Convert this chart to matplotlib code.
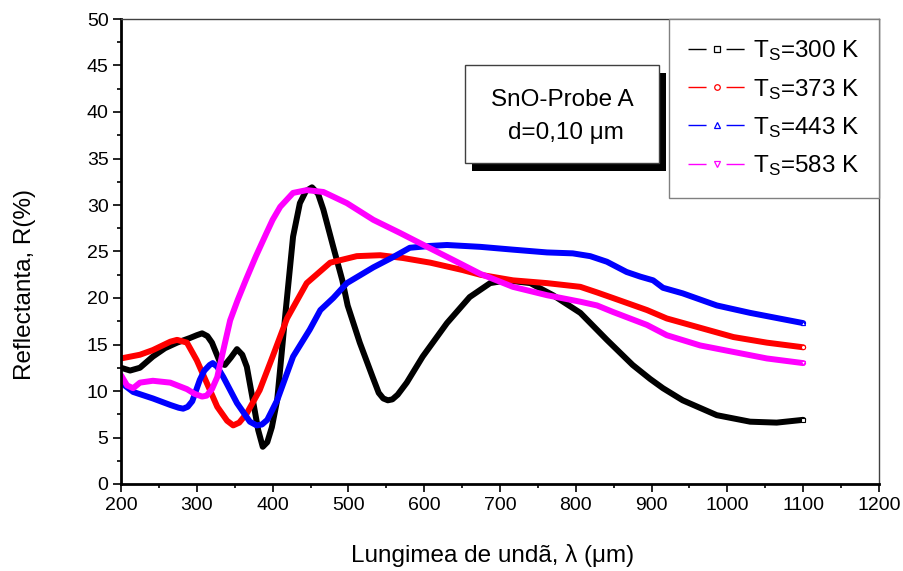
import matplotlib
matplotlib.use('Agg')
import matplotlib.pyplot as plt
from matplotlib.lines import Line2D
from matplotlib.patches import Rectangle
from matplotlib.ticker import MultipleLocator

plt.rcParams['font.family'] = ['Liberation Sans', 'DejaVu Sans']
plt.rcParams['mathtext.default'] = 'regular'

# Ts = 300 K
x_300 = [200, 212, 225, 242, 258, 274, 291, 300, 307, 314, 320, 326, 331, 337, 345, 353, 360, 366,
         374, 381, 387, 393, 399, 406, 412, 417, 427, 436, 444, 452, 460, 467, 480,
         492, 499, 515, 532, 540, 546, 552, 558, 565, 577, 598, 630, 660, 687, 709, 740, 770,
         806, 841, 875, 898, 915, 941, 986, 1030, 1065, 1100]
y_300 = [12.5, 12.2, 12.5, 13.7, 14.6, 15.2, 15.7, 16.0, 16.2, 15.9, 15.2, 14.0, 13.0, 12.8, 13.6, 14.5, 13.9, 12.6,
         9.0, 5.8, 4.0, 4.5, 6.1, 9.0, 14.1, 18.4, 26.6, 30.2, 31.5, 31.9, 31.2, 29.5, 25.5,
         21.9, 19.2, 15.2, 11.5, 9.8, 9.2, 9.0, 9.1, 9.6, 10.9, 13.7, 17.3, 20.1, 21.6, 21.9, 21.6, 20.3,
         18.4, 15.5, 12.8, 11.3, 10.3, 9.0, 7.4, 6.7, 6.6, 6.9]

# Ts = 373 K
x_373 = [200, 225, 242, 265, 274, 287, 300, 313, 327, 340, 348, 356, 366, 383, 400, 419, 432,
         445, 476, 511, 542, 572, 608, 651, 674, 717, 762, 806, 828, 849, 894, 920,
         964, 1008, 1052, 1100]
y_373 = [13.5, 13.9, 14.4, 15.3, 15.5, 15.2, 13.3, 10.9, 8.3, 6.8, 6.3, 6.6, 7.6, 10.1, 13.7, 17.8, 19.7,
         21.6, 23.8, 24.5, 24.6, 24.3, 23.8, 23.0, 22.5, 21.9, 21.6, 21.2, 20.6, 20.0, 18.7, 17.8,
         16.8, 15.8, 15.2, 14.7]

# Ts = 443 K
x_443 = [200, 216, 242, 265, 276, 282, 288, 294, 304, 310, 317, 321, 327, 335, 353, 370, 379, 386, 393, 406,
         427, 449, 463, 480, 498, 533, 559, 581, 608, 630, 674, 717, 762, 796, 819,
         841, 867, 885, 902, 915, 941, 986, 1030, 1100]
y_443 = [10.9, 9.9, 9.2, 8.5, 8.2, 8.1, 8.3, 8.9, 11.2, 12.2, 12.8, 13.0, 12.6, 11.5, 8.7, 6.7, 6.3, 6.4, 6.9, 9.0,
         13.7, 16.6, 18.7, 20.0, 21.6, 23.3, 24.4, 25.4, 25.6, 25.7, 25.5, 25.2, 24.9, 24.8, 24.5,
         23.9, 22.8, 22.3, 21.9, 21.1, 20.5, 19.2, 18.4, 17.3]

# Ts = 583 K
x_583 = [200, 208, 216, 225, 242, 265, 287, 297, 307, 313, 320, 327, 335, 344, 354, 365, 378,
         392, 400, 410, 427, 445, 467, 498, 533, 568, 604, 638, 674, 717, 762, 806,
         828, 849, 894, 920, 964, 1008, 1052, 1100]
y_583 = [11.7, 10.6, 10.3, 10.9, 11.1, 10.9, 10.2, 9.7, 9.4, 9.5, 10.2, 11.5, 14.4, 17.6, 19.8, 22.0, 24.5,
         27.0, 28.4, 29.8, 31.3, 31.6, 31.4, 30.2, 28.4, 27.0, 25.5, 24.1, 22.6, 21.2, 20.3, 19.6,
         19.2, 18.5, 17.1, 16.0, 14.9, 14.2, 13.5, 13.0]

labels = ['$T_S$=300 K', '$T_S$=373 K', '$T_S$=443 K', '$T_S$=583 K']
colors = ['black', 'red', 'blue', 'magenta']
markers = ['s', 'o', '^', 'v']

fig = plt.figure(figsize=(9.04, 5.71), dpi=100)
ax = fig.add_axes([121 / 904, 1 - 484 / 571, 758 / 904, 465 / 571])

series = [(x_300, y_300), (x_373, y_373), (x_443, y_443), (x_583, y_583)]
for (xs, ys), c, m in zip(series, colors, markers):
    ax.plot(xs, ys, color=c, lw=4.3, solid_capstyle='round', solid_joinstyle='round')
    ax.plot(xs[-1:], ys[-1:], ls='none', marker=m, ms=3, mfc='white', mec=c, mew=0.8)

ax.set_xlim(200, 1200)
ax.set_ylim(0, 50)
ax.xaxis.set_major_locator(MultipleLocator(100))
ax.xaxis.set_minor_locator(MultipleLocator(50))
ax.yaxis.set_major_locator(MultipleLocator(5))
ax.yaxis.set_minor_locator(MultipleLocator(2.5))
ax.tick_params(which='major', length=6, width=1.2, labelsize=14, pad=3)
ax.tick_params(which='minor', length=3, width=1.2)

for s in ['left', 'bottom']:
    ax.spines[s].set_linewidth(2)
for s in ['top', 'right']:
    ax.spines[s].set_linewidth(1)
    ax.spines[s].set_color('#404040')

ax.set_xlabel('Lungimea de undã, λ (μm)', fontsize=17.5)
ax.set_ylabel('Reflectanta, R(%)', fontsize=17.5)
ax.xaxis.set_label_coords(0.49, -0.13)
ax.yaxis.set_label_coords(-0.112, 0.43)

# annotation box with shadow
bx, by, bw, bh = 0.454, 0.690, 0.256, 0.211
ax.add_patch(Rectangle((bx + 0.009, by - 0.017), bw, bh, transform=ax.transAxes,
                       facecolor='black', edgecolor='none', zorder=5))
ax.add_patch(Rectangle((bx, by), bw, bh, transform=ax.transAxes,
                       facecolor='white', edgecolor='#404040', lw=1, zorder=6))
ax.text(bx + bw / 2, by + bh * 0.64, 'SnO-Probe A', transform=ax.transAxes,
        ha='center', va='center', fontsize=17.5, zorder=7)
ax.text(bx + bw / 2 + 0.005, by + bh * 0.31, 'd=0,10 μm', transform=ax.transAxes,
        ha='center', va='center', fontsize=17.5, zorder=7)

handles = [Line2D([], [], color=c, lw=1, ls=(0, (13, 14.4)), marker=m, ms=4,
                  mfc='white', mec=c, mew=0.9) for c, m in zip(colors, markers)]
leg = ax.legend(handles, labels, loc='upper right', bbox_to_anchor=(1, 1),
                borderaxespad=0, fontsize=17.5, handlelength=2.37, handletextpad=0.3,
                borderpad=0.8, labelspacing=0.55, fancybox=False, framealpha=1)
leg.get_frame().set_edgecolor('#808080')
leg.get_frame().set_linewidth(1)
leg.set_zorder(8)

fig.savefig('out.png', dpi=100)
